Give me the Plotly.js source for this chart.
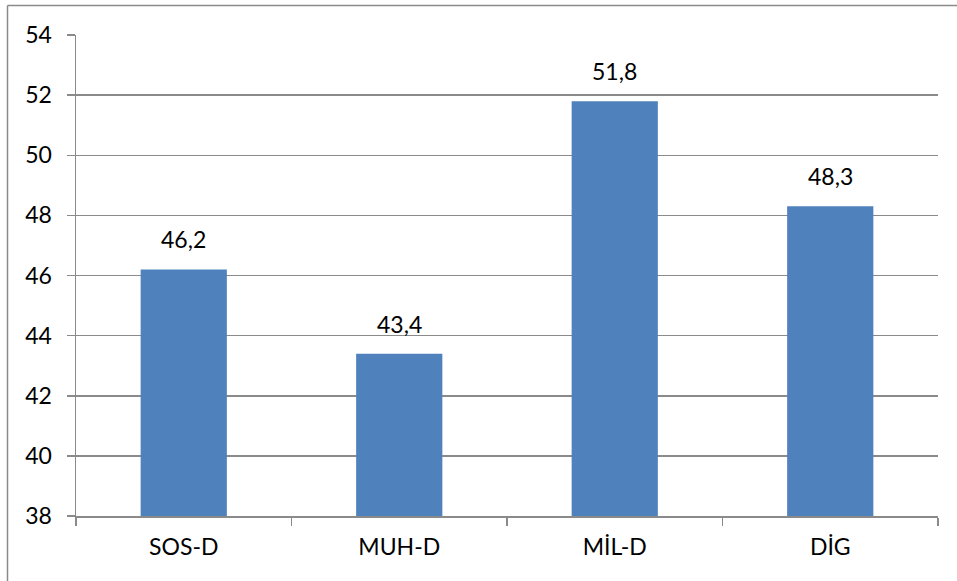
<!DOCTYPE html>
<html>
<head>
<meta charset="utf-8">
<script src="https://cdn.plot.ly/plotly-3.0.1.min.js"></script>
<style>
html,body{margin:0;padding:0;background:#fff;}
#chart{width:957px;height:581px;}
</style>
</head>
<body>
<div id="chart"></div>
<script>
const categories = ["SOS-D", "MUH-D", "MİL-D", "DİG"];
const values = [46.2, 43.4, 51.8, 48.3];
const yTicks = [38, 40, 42, 44, 46, 48, 50, 52, 54];

const fontFam = "Lato, 'Open Sans', sans-serif";
const fsize = 23;
const gridCol = "#8a8a8a";

const trace = {
  type: "bar",
  x: categories,
  y: values,
  marker: {color: "#4F81BD"},
  hoverinfo: "none"
};

const fmt = v => v.toFixed(1).replace(".", ",");
const labels = categories.map((c, i) => ({
  x: c, y: values[i], xref: "x", yref: "y",
  text: fmt(values[i]),
  showarrow: false,
  yanchor: "bottom",
  yshift: 14,
  font: {family: fontFam, size: fsize, color: "#000"}
}));

const W = 957, H = 581, L = 76, R = 19, T = 35, B = 65;
const pw = W - L - R, ph = H - T - B;
const px = v => (v - L) / pw;
const py = v => (H - B - v) / ph;

const layout = {
  width: W, height: H,
  margin: {l: L, r: R, t: T, b: B, pad: 0},
  paper_bgcolor: "#fff",
  plot_bgcolor: "#fff",
  separators: ",.",
  showlegend: false,
  bargap: 0.6,
  font: {family: fontFam, size: fsize, color: "#000"},
  xaxis: {
    type: "category",
    showgrid: false,
    showline: true,
    linecolor: gridCol,
    linewidth: 1.5,
    ticks: "outside",
    tickson: "boundaries",
    ticklen: 8,
    tickcolor: gridCol,
    tickwidth: 1.5,
    ticklabelstandoff: 10,
    tickfont: {family: fontFam, size: fsize, color: "#000"},
    zeroline: false
  },
  yaxis: {
    range: [38, 54],
    tickvals: yTicks,
    ticktext: yTicks.map(String),
    showgrid: true,
    gridcolor: gridCol,
    gridwidth: 1.5,
    showline: true,
    linecolor: gridCol,
    linewidth: 1.5,
    ticks: "outside",
    ticklen: 8,
    tickcolor: gridCol,
    tickwidth: 1.5,
    ticklabelstandoff: 10,
    tickfont: {family: fontFam, size: fsize, color: "#000"},
    zeroline: false
  },
  annotations: labels,
  shapes: [
    {type: "line", xref: "paper", yref: "paper", x0: px(7.5), x1: px(7.5), y0: py(5.5), y1: py(600), line: {color: gridCol, width: 1.5}},
    {type: "line", xref: "paper", yref: "paper", x0: px(7.5), x1: px(980), y0: py(5.5), y1: py(5.5), line: {color: gridCol, width: 1.5}}
  ]
};

Plotly.newPlot("chart", [trace], layout, {displayModeBar: false, staticPlot: true});
</script>
</body>
</html>
